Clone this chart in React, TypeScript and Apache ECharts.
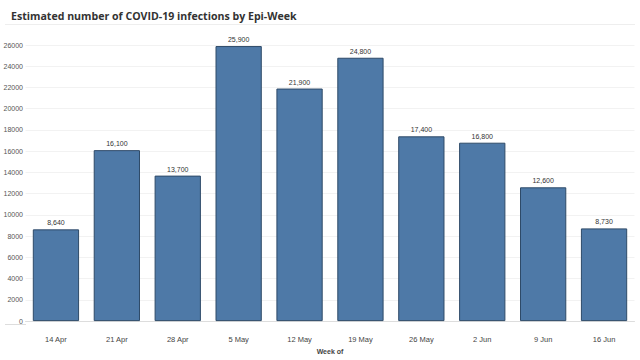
import React, { useEffect, useRef } from "react";
import * as echarts from "echarts";

const categories = ["14 Apr", "21 Apr", "28 Apr", "5 May", "12 May", "19 May", "26 May", "2 Jun", "9 Jun", "16 Jun"];
const infections = [8640, 16100, 13700, 25900, 21900, 24800, 17400, 16800, 12600, 8730];

export default function App() {
  const ref = useRef<HTMLDivElement>(null);
  useEffect(() => {
    const chart = echarts.init(ref.current!, null, { renderer: "svg" });
    chart.setOption({
      animation: false,
      backgroundColor: "#ffffff",
      title: {
        text: "Estimated number of COVID-19 infections by Epi-Week",
        left: 6,
        top: 5,
        textStyle: { fontFamily: "Open Sans", fontWeight: "bold", fontSize: 10.6, color: "#333333" },
      },
      graphic: [
        { type: "line", shape: { x1: 5, y1: 24.5, x2: 635, y2: 24.5 }, style: { stroke: "#eeeeee", lineWidth: 1 } },
        { type: "line", shape: { x1: 5, y1: 324.5, x2: 26, y2: 324.5 }, style: { stroke: "#dddddd", lineWidth: 1 } },
      ],
      grid: { left: 25.5, right: 5.5, top: 45, bottom: 36, containLabel: false },
      xAxis: {
        type: "category",
        data: categories,
        name: "Week of",
        nameLocation: "middle",
        nameGap: 24,
        nameTextStyle: { fontFamily: "Liberation Sans", fontSize: 7, fontWeight: "bold", color: "#444444" },
        axisLine: { lineStyle: { color: "#dddddd" } },
        axisTick: { show: false },
        axisLabel: { fontFamily: "Liberation Sans", fontSize: 7.5, color: "#444444", margin: 14 },
      },
      yAxis: {
        type: "value",
        min: 0,
        max: 26000,
        interval: 2000,
        axisLine: { show: false },
        axisTick: { show: false },
        axisLabel: { fontFamily: "Liberation Sans", fontSize: 7, color: "#555555", margin: 2.5, formatter: (v: number) => String(v) },
        splitLine: { lineStyle: { color: "#f2f2f2" } },
      },
      series: [
        {
          type: "bar",
          data: infections,
          barWidth: "76%",
          itemStyle: { color: "#4e79a7", borderColor: "#2e4a68", borderWidth: 1 },
          label: {
            show: true,
            position: "top",
            distance: 3,
            fontFamily: "Liberation Sans",
            fontSize: 7,
            color: "#333333",
            formatter: (p: any) => p.value.toLocaleString("en-US"),
          },
        },
      ],
    });
    return () => chart.dispose();
  }, []);
  return <div ref={ref} style={{ position: "fixed", left: 0, top: 0, width: 640, height: 360 }} />;
}
